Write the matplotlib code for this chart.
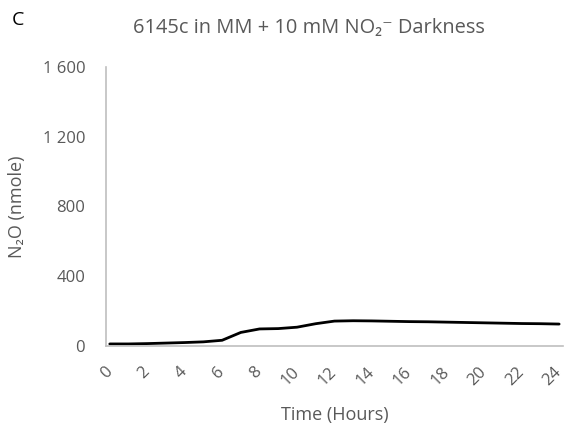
import matplotlib
matplotlib.use('Agg')
import matplotlib.pyplot as plt
from matplotlib.ticker import FuncFormatter

# N2O accumulation over time, hourly readings
hours = [0, 1, 2, 3, 4, 5, 6, 7, 8, 9, 10, 11, 12, 13, 14, 15, 16, 17, 18, 19, 20, 21, 22, 23, 24]
n2o = [12, 12, 14, 17, 20, 24, 33, 78, 98, 100, 108, 128, 143, 145, 144, 142, 140, 139, 137, 135, 133, 131, 129, 128, 126]

x_ticks = list(range(0, 25, 2))
y_ticks = [0, 400, 800, 1200, 1600]

plt.rcParams['font.family'] = ['Open Sans', 'DejaVu Sans']
grey = '#595959'

fig = plt.figure(figsize=(5.64, 4.32), dpi=100)
ax = fig.add_axes([0.188, 0.199, 0.81, 0.646])

ax.plot(hours, n2o, color='black', linewidth=2.0, solid_capstyle='round', solid_joinstyle='round')

ax.set_xlim(-0.2, 24.2)
ax.set_ylim(0, 1600)
ax.set_xticks(x_ticks)
ax.set_yticks(y_ticks)
ax.yaxis.set_major_formatter(FuncFormatter(lambda v, p: f'{int(v):,}'.replace(',', ' ')))

for s in ['top', 'right']:
    ax.spines[s].set_visible(False)
for s in ['left', 'bottom']:
    ax.spines[s].set_color('#bfbfbf')
    ax.spines[s].set_linewidth(1.2)

ax.tick_params(length=0, colors=grey, labelsize=12)
ax.tick_params(axis='y', pad=15)
ax.tick_params(axis='x', pad=17)
plt.setp(ax.get_xticklabels(), rotation=45, ha='right', va='center', rotation_mode='anchor')

ax.set_xlabel('Time (Hours)', color=grey, fontsize=13)
ax.set_ylabel('N\u2082O (nmole)', color=grey, fontsize=13)
ax.xaxis.set_label_coords(0.5, -0.247)
ax.yaxis.set_label_coords(-0.194, 0.5)
ax.xaxis.label.set_va('center')
ax.yaxis.label.set_va('center')

fig.text(0.548, 0.935, '6145c in MM + 10 mM NO\u2082\u207b Darkness', ha='center', va='center',
         color=grey, fontsize=14.4)
fig.text(0.021, 0.954, 'C', ha='left', va='center', color='black', fontsize=14)

fig.savefig('out.png', dpi=100)
